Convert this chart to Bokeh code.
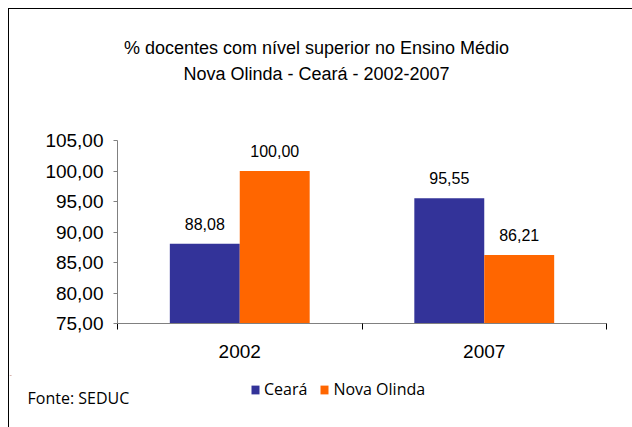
from bokeh.plotting import figure
from bokeh.layouts import column
from bokeh.models import (ColumnDataSource, FixedTicker, LabelSet, Label, Legend, LegendItem, Range1d)
from bokeh.core.properties import value
from bokeh.embed import file_html
from bokeh.resources import INLINE

# ---- data ----
categories = ["2002", "2007"]
series_names = ["Ceará", "Nova Olinda"]
ceara = [88.08, 95.55]
nova_olinda = [100.00, 86.21]
ceara_labels = ["88,08", "95,55"]
nova_olinda_labels = ["100,00", "86,21"]
y_ticks = [75, 80, 85, 90, 95, 100, 105]
y_tick_labels = ["75,00", "80,00", "85,00", "90,00", "95,00", "100,00", "105,00"]
title_lines = ["% docentes com nível superior no Ensino Médio", "Nova Olinda - Ceará - 2002-2007"]
source_note = "Fonte: SEDUC"
colors = ["#333399", "#FF6600"]

W = 623
TOP_H, MAIN_H, BOT_H = 121, 245, 52


def blank(h):
    f = figure(width=W, height=h, output_backend="svg", toolbar_location=None,
               x_range=Range1d(0, W), y_range=Range1d(0, h),
               x_axis_location=None, y_axis_location=None,
               min_border=0, min_border_left=0, min_border_right=0,
               min_border_top=0, min_border_bottom=0)
    f.frame_align = False
    f.outline_line_color = None
    f.grid.visible = False
    f.background_fill_color = "white"
    f.border_fill_color = "white"
    return f


# ---- title strip ----
top = blank(TOP_H)
for txt, yy in zip(title_lines, (83, 57)):
    top.add_layout(Label(x=307, y=yy, text=txt, text_align="center", text_baseline="alphabetic",
                         text_font="Liberation Sans", text_font_size="18px", text_color="black"))

# ---- main chart ----
bar_w = 0.286
centers = [i + 0.5 for i in range(len(categories))]

p = figure(width=W, height=MAIN_H, output_backend="svg", toolbar_location=None,
           x_range=Range1d(0, len(categories)), y_range=Range1d(75, 105),
           min_border_left=108, min_border_right=26, min_border_top=10, min_border_bottom=52)
p.frame_align = False
p.outline_line_color = None
p.grid.visible = False
p.background_fill_color = "white"
p.border_fill_color = "white"

src1 = ColumnDataSource(dict(x=[c - bar_w / 2 for c in centers], top=ceara, lab=ceara_labels))
src2 = ColumnDataSource(dict(x=[c + bar_w / 2 for c in centers], top=nova_olinda, lab=nova_olinda_labels))
p.vbar(x="x", top="top", bottom=75, width=bar_w, source=src1, fill_color=colors[0], line_color=None)
p.vbar(x="x", top="top", bottom=75, width=bar_w, source=src2, fill_color=colors[1], line_color=None)

for s in (src1, src2):
    p.add_layout(LabelSet(x="x", y="top", text="lab", source=s, y_offset=14,
                          text_align="center", text_baseline="alphabetic",
                          text_font=value("Liberation Sans"), text_font_size=value("16px"),
                          text_color="black"))

yax = p.yaxis[0]
yax.ticker = FixedTicker(ticks=y_ticks)
yax.major_label_overrides = {t: l for t, l in zip(y_ticks, y_tick_labels)}
yax.axis_line_color = "#808080"
yax.major_tick_line_color = "#808080"
yax.major_tick_out = 4
yax.major_tick_in = 0
yax.minor_tick_line_color = None
yax.major_label_standoff = 10
yax.major_label_text_font = "Liberation Sans"
yax.major_label_text_font_size = "19px"
yax.major_label_text_color = "black"

xax = p.xaxis[0]
xax.ticker = FixedTicker(ticks=centers, minor_ticks=list(range(len(categories) + 1)))
xax.major_label_overrides = {c: cat for c, cat in zip(centers, categories)}
xax.axis_line_color = "#808080"
xax.major_tick_line_color = None
xax.major_tick_out = 0
xax.minor_tick_line_color = "black"
xax.minor_tick_out = 6
xax.minor_tick_in = 0
xax.major_label_standoff = 15
xax.major_label_text_font = "Liberation Sans"
xax.major_label_text_font_size = "19px"
xax.major_label_text_color = "black"

# ---- legend / source strip ----
bot = blank(BOT_H)
# legend proxies: the same series, drawn as zero-height bars far above this strip's range
lr1 = bot.vbar(x=centers, top=ceara, bottom=ceara, width=1, fill_color=colors[0], line_color=None)
lr2 = bot.vbar(x=centers, top=nova_olinda, bottom=nova_olinda, width=1, fill_color=colors[1], line_color=None)
legend = Legend(items=[LegendItem(label=series_names[0], renderers=[lr1]),
                       LegendItem(label=series_names[1], renderers=[lr2])],
                location=(241, 27), orientation="horizontal",
                glyph_width=10, glyph_height=11, label_standoff=4, spacing=12,
                padding=0, margin=0, border_line_color=None, background_fill_alpha=0,
                label_text_font="Open Sans", label_text_font_size="16px",
                label_text_color="black", label_height=12)
bot.add_layout(legend, "center")
bot.add_layout(Label(x=18, y=30, text=source_note, text_align="left", text_baseline="alphabetic",
                     text_font="Open Sans", text_font_size="16px", text_color="black"))

layout = column(top, p, bot, spacing=0)
layout.styles = {"border-left": "1px solid black", "border-top": "1px solid black",
                 "margin-left": "8px", "margin-top": "8px"}

open("out.html", "w").write(file_html(layout, INLINE))
